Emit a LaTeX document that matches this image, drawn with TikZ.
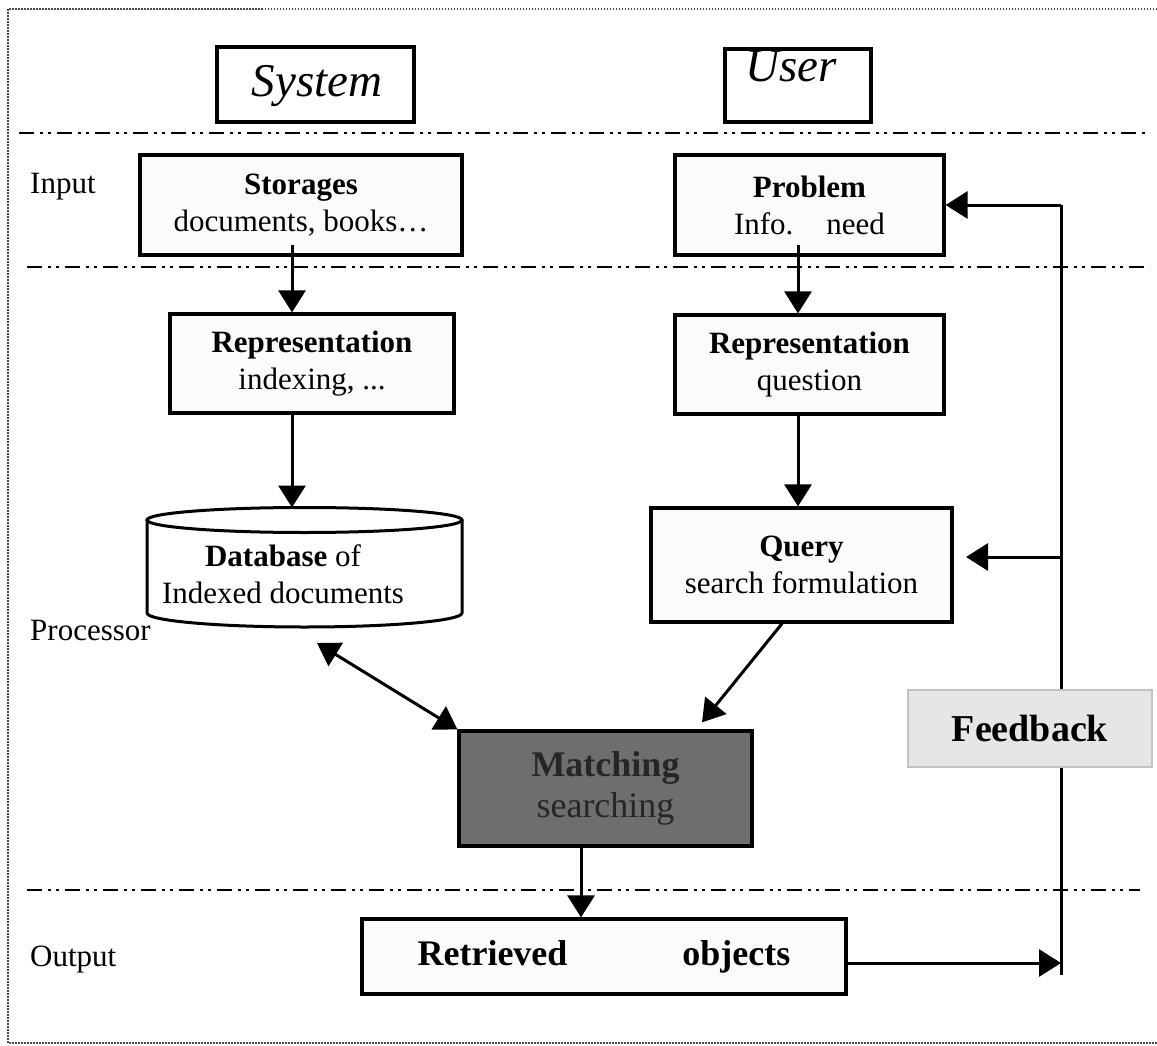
\documentclass[tikz,border=0pt]{standalone}
\usepackage{fontspec}
\setmainfont{Liberation Serif}
\usetikzlibrary{arrows.meta}
\definecolor{boxfill}{HTML}{FBFBFB}
\definecolor{fbfill}{HTML}{E6E6E6}
\definecolor{fbline}{HTML}{C2C2C2}
\definecolor{matchfill}{HTML}{6E6E6E}
\definecolor{matchtext}{HTML}{262626}
\tikzset{
  base/.style={font=\fontsize{31}{37}\selectfont},
  stagebox/.style={base, draw=black, line width=3.2pt, fill=boxfill, align=center, inner sep=0pt},
  headbox/.style={draw=black, line width=3.2pt, inner sep=0pt},
  tip/.style={Triangle[length=22pt,width=27pt]},
  conn/.style={line width=3pt, -{Triangle[length=22pt,width=27pt]}},
  biconn/.style={line width=3pt, {Triangle[length=22pt,width=27pt]}-{Triangle[length=22pt,width=27pt]}},
  plain/.style={line width=3pt},
  divider/.style={line width=2.6pt, dash pattern=on 15pt off 6pt on 3pt off 5pt on 3pt off 6pt},
  phase/.style={base, anchor=west, inner sep=0pt}
}
\begin{document}
\begin{tikzpicture}[x=1pt,y=-1pt]
\useasboundingbox (0,0) rectangle (1157,1046);

% outer dotted frame (right side runs off the page)
\draw[line width=1.6pt, dash pattern=on 1.5pt off 1.5pt, black!70] (1157,9) -- (8,9) -- (8,1043) -- (1157,1043);

% column headings
\node[headbox, minimum width=197pt, minimum height=75pt] (sys) at (315.5,84.5) {};
\node[font=\fontsize{47}{52}\selectfont\itshape, anchor=base, inner sep=0pt] (systxt) at (317,97) {System};
\node[headbox, minimum width=146pt, minimum height=73pt] (usr) at (798,85.5) {};
\node[font=\fontsize{47}{52}\selectfont\itshape, anchor=base, inner sep=0pt] (usrtxt) at (791,82) {User};

% phase dividers
\draw[divider] (19,133) -- (1150,133);
\draw[divider] (27,267) -- (1150,267);
\draw[divider] (27,890) -- (1140,890);

% phase labels
\node[phase] (lin) at (30,187) {Input};
\node[phase] (lproc) at (30,630) {Processor};
\node[phase] (lout) at (30,960) {Output};

% input row
\node[stagebox, minimum width=322pt, minimum height=100pt] (stor) at (301,205)
  {\textbf{Storages}\\documents, books…};
\node[stagebox, minimum width=269pt, minimum height=100pt] (prob) at (809.5,205)
  {\textbf{Problem}\\Info.\hspace{33pt}need};

% representation row
\node[stagebox, minimum width=284pt, minimum height=99pt] (rep1) at (312,363.5)
  {\textbf{Representation}\\indexing, ...};
\node[stagebox, minimum width=269pt, minimum height=99pt] (rep2) at (809.5,364.5)
  {\textbf{Representation}\\question};

% database cylinder
\draw[line width=3pt, fill=white] (147,520) -- (147,613) arc[start angle=180, end angle=0, x radius=157.5, y radius=14] -- (462,520);
\draw[line width=3pt, fill=white] (304.5,520) ellipse[x radius=157.5, y radius=12.5];
\node[base, align=center, inner sep=0pt] (db) at (283,574.5) {\textbf{Database} of\\Indexed documents};
\coordinate (dbtop) at (292,507.5);
\coordinate (dbport) at (317,643);

% query
\node[stagebox, minimum width=301pt, minimum height=114pt] (query) at (801.5,565)
  {\textbf{Query}\\search formulation};

% matching
\node[stagebox, fill=matchfill, text=matchtext, minimum width=293pt, minimum height=115pt,
      font=\fontsize{36}{41}\selectfont] (match) at (605.5,788.5)
  {\textbf{Matching}\\searching};

% feedback
\node[draw=fbline, line width=2pt, fill=fbfill, minimum width=244pt, minimum height=77pt,
      font=\fontsize{38}{42}\selectfont\bfseries] (fb) at (1030,728.5) {Feedback};

% output
\node[stagebox, minimum width=484pt, minimum height=75pt, font=\fontsize{36}{42}\selectfont\bfseries] (ret) at (604,956.5)
  {Retrieved\hspace{115pt}objects};

% feedback loop points
\coordinate (fbtop) at (1061,205);
\coordinate (fbq) at (1061,557);
\coordinate (fbqtip) at (966,557);
\coordinate (fbbot) at (1061,975);
\coordinate (fbin) at (1061,963);

% connectors
\draw[conn] ([xshift=-20pt,yshift=12pt]rep1.north |- stor.south) -- ([xshift=-20pt]rep1.north);
\draw[conn] ([xshift=-11.5pt,yshift=12pt]rep2.north |- prob.south) -- ([xshift=-11.5pt]rep2.north);
\draw[conn] ([xshift=-20pt]rep1.south) -- (dbtop);
\draw[conn] ([xshift=-11.5pt]rep2.south) -- ([xshift=-11.5pt]rep2.south |- query.north);
\draw[conn] ([xshift=-19.5pt]query.south) -- ([xshift=96.5pt,yshift=7pt]match.north);
\draw[biconn] (dbport) -- (match.north west);
\draw[conn] ([xshift=-24.5pt]match.south) -- ([xshift=-24.5pt]match.south |- ret.north);
\draw[conn] (ret.east |- fbin) -- (fbin);

% feedback loop
\draw[plain] (fbbot) -- (fb.south -| fbbot);
\draw[plain] (fb.north -| fbtop) -- (fbtop);
\draw[conn] (fbtop) -- (prob.east |- fbtop);
\draw[conn] (fbq) -- (fbqtip);
\end{tikzpicture}
\end{document}
